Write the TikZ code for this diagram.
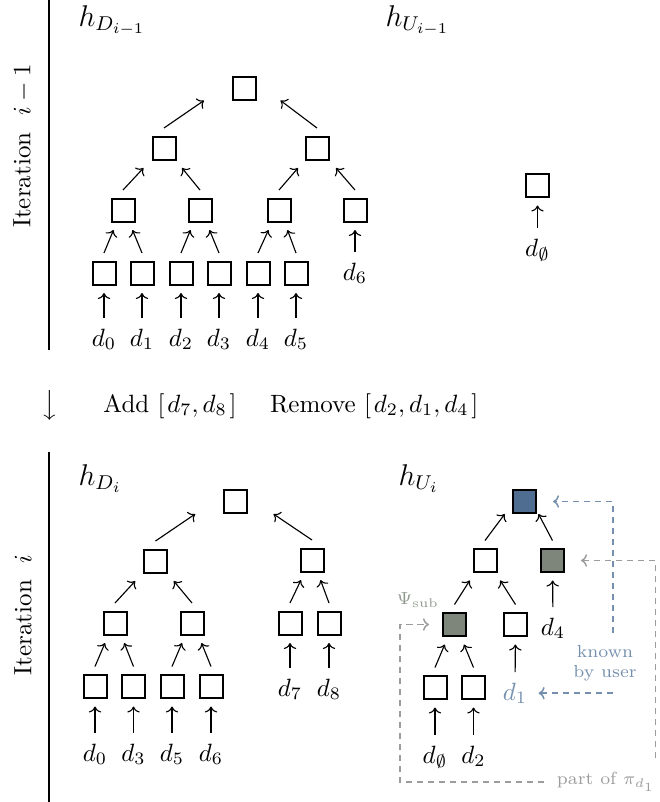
\documentclass[tikz,border=0pt]{standalone}
\usepackage{xcolor}
\usetikzlibrary{arrows.meta,calc}
\definecolor{keyblue}{HTML}{4E6D91}
\definecolor{keygray}{HTML}{7E867B}
\definecolor{userblue}{HTML}{7590AE}
\definecolor{subgray}{HTML}{8E998C}
\definecolor{pathgray}{HTML}{9C9C9C}
\tikzset{
  >={To[length=2.4pt,width=5pt]},
  hbox/.style={draw,line width=0.8pt,minimum size=9.2pt,inner sep=0pt},
  leaf/.style={inner sep=0pt,anchor=base},
  title/.style={inner sep=0pt,anchor=base west,font=\large},
  link/.style={->,line width=0.45pt},
  feed/.style={link,shorten <=4pt,shorten >=3pt},
  userpath/.style={->,draw=userblue,line width=0.6pt,dash pattern=on 2.6pt off 1.8pt},
  proofpath/.style={->,draw=pathgray,line width=0.6pt,dash pattern=on 2.6pt off 1.8pt},
}
% child -> parent arrow; optional arg = gap below the parent
\newcommand{\climb}[3][3pt]{\draw[link] ($(#2.north)+(0,3pt)$) -- ($(#3.south)!.5!(#2.north |- #3.south)+(0,-#1)$);}

\begin{document}
\begin{tikzpicture}[x=0.4pt,y=-0.4pt]
\useasboundingbox (0,0) rectangle (660,802);

% Iteration i-1 ---------------------------------------------------------------
\draw[line width=0.6pt] (49,0) -- (49,350);
\node[rotate=90] (itold) at (23,146) {Iteration~~$i-1$};
\node[title] (hdold) at (78,26) {$h_{D_{i-1}}$};
\node[title] (huold) at (385,26) {$h_{U_{i-1}}$};

\node[hbox] (o1) at (244,88) {};
\node[hbox] (o2a) at (164,148) {};
\node[hbox] (o2b) at (317,148) {};
\node[hbox] (o3a) at (123,210) {};
\node[hbox] (o3b) at (200,210) {};
\node[hbox] (o3c) at (279,210) {};
\node[hbox] (o3d) at (355,210) {};
\node[hbox] (o4a) at (104,273) {};
\node[hbox] (o4b) at (142,273) {};
\node[hbox] (o4c) at (181,273) {};
\node[hbox] (o4d) at (219,273) {};
\node[hbox] (o4e) at (258,273) {};
\node[hbox] (o4f) at (296,273) {};
\node[leaf] (od0) at (104,346) {$d_0$};
\node[leaf] (od1) at (142,346) {$d_1$};
\node[leaf] (od2) at (181,346) {$d_2$};
\node[leaf] (od3) at (219,346) {$d_3$};
\node[leaf] (od4) at (258,346) {$d_4$};
\node[leaf] (od5) at (296,346) {$d_5$};
\node[leaf] (od6) at (355,280) {$d_6$};
\climb[0pt]{o2a}{o1}
\climb[0pt]{o2b}{o1}
\climb{o3a}{o2a}
\climb{o3b}{o2a}
\climb{o3c}{o2b}
\climb{o3d}{o2b}
\climb{o4a}{o3a}
\climb{o4b}{o3a}
\climb{o4c}{o3b}
\climb{o4d}{o3b}
\climb{o4e}{o3c}
\climb{o4f}{o3c}
\draw[feed] (od0) -- (o4a);
\draw[feed] (od1) -- (o4b);
\draw[feed] (od2) -- (o4c);
\draw[feed] (od3) -- (o4d);
\draw[feed] (od4) -- (o4e);
\draw[feed] (od5) -- (o4f);
\draw[feed] (od6) -- (o3d);

\node[hbox] (ou) at (537.5,185.5) {};
\node[leaf] (oue) at (537.5,256) {$d_\emptyset$};
\draw[feed] (oue) -- (ou);

% update ----------------------------------------------------------------------
\node[inner sep=0pt] (down) at (50,405) {$\big\downarrow$};
\node[inner sep=0pt,anchor=base west] (change) at (103,412) {Add $[\mkern2mu d_7, d_8\mkern2mu]$\quad\ Remove $[\mkern2mu d_2, d_1, d_4\mkern2mu]$};

% Iteration i -----------------------------------------------------------------
\draw[line width=0.6pt] (49,452) -- (49,802);
\node[rotate=90] (itnew) at (23,615) {Iteration~~$i$};
\node[title] (hdnew) at (78,485) {$h_{D_i}$};
\node[title] (hunew) at (398,485) {$h_{U_i}$};

\node[hbox] (n1) at (235,501.5) {};
\node[hbox] (n2a) at (155.5,561) {};
\node[hbox] (n2b) at (312,560) {};
\node[hbox] (n3a) at (115,623) {};
\node[hbox] (n3b) at (192,623) {};
\node[hbox] (n3c) at (290,623) {};
\node[hbox] (n3d) at (329,623) {};
\node[hbox] (n4a) at (95,686.5) {};
\node[hbox] (n4b) at (133.5,686.5) {};
\node[hbox] (n4c) at (172,686.5) {};
\node[hbox] (n4d) at (211,686.5) {};
\node[leaf] (nd0) at (95,761) {$d_0$};
\node[leaf] (nd3) at (133.5,761) {$d_3$};
\node[leaf] (nd5) at (172,761) {$d_5$};
\node[leaf] (nd6) at (211,761) {$d_6$};
\node[leaf] (nd7) at (290,696) {$d_7$};
\node[leaf] (nd8) at (329,696) {$d_8$};
\climb[0pt]{n2a}{n1}
\climb[0pt]{n2b}{n1}
\climb{n3a}{n2a}
\climb{n3b}{n2a}
\climb{n3c}{n2b}
\climb{n3d}{n2b}
\climb{n4a}{n3a}
\climb{n4b}{n3a}
\climb{n4c}{n3b}
\climb{n4d}{n3b}
\draw[feed] (nd0) -- (n4a);
\draw[feed] (nd3) -- (n4b);
\draw[feed] (nd5) -- (n4c);
\draw[feed] (nd6) -- (n4d);
\draw[feed] (nd7) -- (n3c);
\draw[feed] (nd8) -- (n3d);

\node[hbox,fill=keyblue] (u1) at (524.5,501.5) {};
\node[hbox] (u2a) at (485,560.5) {};
\node[hbox,fill=keygray] (u2b) at (552.5,560.5) {};
\node[hbox,fill=keygray] (u3a) at (454.5,624.5) {};
\node[hbox] (u3b) at (515.5,624.5) {};
\node[hbox] (u4a) at (435,687.5) {};
\node[hbox] (u4b) at (473.5,687.5) {};
\node[leaf] (ud4) at (553,635) {$d_4$};
\node[leaf,text=userblue] (ud1) at (515,700) {$d_1$};
\node[leaf] (ue) at (435,763) {$d_\emptyset$};
\node[leaf] (ud2) at (473.5,763) {$d_2$};
\climb[0pt]{u2a}{u1}
\climb[0pt]{u2b}{u1}
\climb{u3a}{u2a}
\climb{u3b}{u2a}
\climb{u4a}{u3a}
\climb{u4b}{u3a}
\draw[feed] (ud4) -- (u2b);
\draw[feed] (ud1) -- (u3b);
\draw[feed] (ue) -- (u4a);
\draw[feed] (ud2) -- (u4b);

% what the user knows / the proof -------------------------------------------------
\node[font=\scriptsize,text=subgray,inner sep=0pt] (psi) at (418,600) {$\Psi_{\mathrm{sub}}$};
\node[font=\scriptsize,text=userblue,align=center,inner sep=0pt] (known) at (605,663) {known\\by user};
\node[font=\scriptsize,text=pathgray,inner sep=0pt] (part) at (606,782) {part of $\pi_{d_1}$};
\coordinate (kx) at (613,633);
\draw[userpath,shorten >=6.4pt] (kx) |- (u1.east);
\draw[userpath,shorten >=4.4pt] (kx |- ud1) -- (ud1.east);
\draw[proofpath,shorten <=4.8pt,shorten >=5.2pt] (part.west) -| ($(u3a.west)+(-42,0)$) -- (u3a.west);
\draw[proofpath,shorten <=5.6pt,shorten >=6.4pt] (part.north east) |- (u2b.east);

\end{tikzpicture}
\end{document}
